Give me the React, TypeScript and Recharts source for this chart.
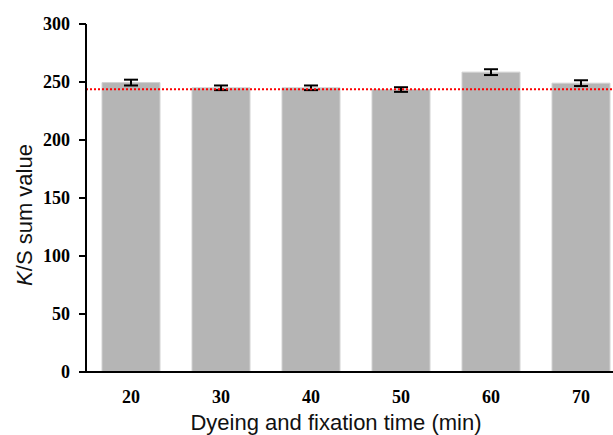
import { Bar, BarChart, ErrorBar, Label, ReferenceLine, XAxis, YAxis } from "recharts";

const times = ["20", "30", "40", "50", "60", "70"];
const ksSum = [249.5, 245, 245, 243.5, 258.5, 249];
const ksErr = [2.5, 2, 2, 2, 2.5, 2.5];
const yTicks = [0, 50, 100, 150, 200, 250, 300];
const reference = 243.7;

const data = times.map((t, i) => ({ time: t, value: ksSum[i], err: ksErr[i] }));

const tickFont = {
  fill: "#000",
  fontSize: 18,
  fontWeight: 700,
  fontFamily: "'Liberation Serif', 'Times New Roman', serif",
};

const titleFont = "'Liberation Sans', Arial, sans-serif";

export default function App() {
  return (
    <div
      style={{
        position: "absolute",
        left: 0,
        top: 0,
        width: 613,
        height: 435,
        overflow: "hidden",
        background: "#fff",
      }}
    >
      <BarChart
        width={626}
        height={435}
        data={data}
        margin={{ top: 24, right: 0, left: 0, bottom: 0 }}
        barSize={58}
      >
        <XAxis
          dataKey="time"
          height={63}
          tick={tickFont}
          tickLine={false}
          tickSize={6}
          tickMargin={12}
          axisLine={{ stroke: "#000", strokeWidth: 2 }}
        >
          <Label
            content={() => (
              <text
                x={336}
                y={430}
                textAnchor="middle"
                fontFamily={titleFont}
                fontSize={22}
                fill="#111"
              >
                Dyeing and fixation time (min)
              </text>
            )}
          />
        </XAxis>
        <YAxis
          width={86}
          domain={[0, 300]}
          ticks={yTicks}
          interval={0}
          tick={tickFont}
          tickSize={7}
          tickMargin={9}
          tickLine={{ stroke: "#000", strokeWidth: 2 }}
          axisLine={{ stroke: "#000", strokeWidth: 2 }}
        >
          <Label
            content={() => (
              <text
                x={32}
                y={215}
                transform="rotate(-90, 32, 215)"
                textAnchor="middle"
                fontFamily={titleFont}
                fontSize={22}
                fill="#111"
              >
                <tspan fontStyle="italic">K</tspan>/S sum value
              </text>
            )}
          />
        </YAxis>
        <Bar
          dataKey="value"
          fill="#b5b5b5"
          stroke="#d2d2d2"
          strokeWidth={1}
          isAnimationActive={false}
        >
          <ErrorBar dataKey="err" width={7} stroke="#000" strokeWidth={2} />
        </Bar>
        <ReferenceLine
          y={reference}
          stroke="#ff0000"
          strokeWidth={2}
          strokeDasharray="2 2"
        />
      </BarChart>
    </div>
  );
}
